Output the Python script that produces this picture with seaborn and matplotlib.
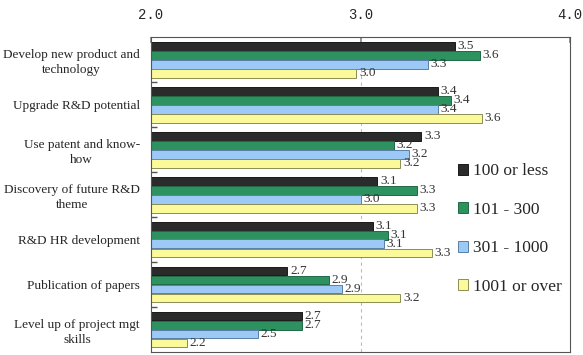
import matplotlib
matplotlib.use("Agg")
import matplotlib.pyplot as plt
import seaborn as sns
import pandas as pd
from matplotlib.patches import Patch

categories = [
    "Develop new product and\ntechnology",
    "Upgrade R&D potential",
    "Use patent and know-\nhow",
    "Discovery of future R&D\ntheme",
    "R&D HR development",
    "Publication of papers",
    "Level up of project mgt\nskills",
]
series = ["100 or less", "101-300", "301-1000", "1001 or over"]
legend_labels = ["100 or less", "101 - 300", "301 - 1000", "1001 or over"]
vals_100 = [3.45, 3.37, 3.29, 3.08, 3.06, 2.65, 2.72]
vals_300 = [3.57, 3.43, 3.16, 3.27, 3.13, 2.85, 2.72]
vals_1000 = [3.32, 3.37, 3.23, 3.00, 3.11, 2.91, 2.51]
vals_over = [2.98, 3.58, 3.19, 3.27, 3.34, 3.19, 2.17]
lab_100 = ["3.5", "3.4", "3.3", "3.1", "3.1", "2.7", "2.7"]
lab_300 = ["3.6", "3.4", "3.2", "3.3", "3.1", "2.9", "2.7"]
lab_1000 = ["3.3", "3.4", "3.2", "3.0", "3.1", "2.9", "2.5"]
lab_over = ["3.0", "3.6", "3.2", "3.3", "3.3", "3.2", "2.2"]
xticks = [2.0, 3.0, 4.0]
xtick_labels = ["2.0", "3.0", "4.0"]

colors = ["#2b2b2b", "#2e9160", "#9cc9f5", "#fbfa9a"]
edges = ["#1a1a1a", "#1f6a45", "#5a7fa5", "#8c8c55"]

rows = []
for s, vals in zip(series, [vals_100, vals_300, vals_1000, vals_over]):
    for c, v in zip(categories, vals):
        rows.append({"cat": c, "size": s, "val": v})
df = pd.DataFrame(rows)

sns.set_theme(style="white")
plt.rcParams["font.family"] = ["Liberation Serif", "DejaVu Serif"]

fig = plt.figure(figsize=(5.83, 3.55), dpi=100)
ax = fig.add_axes([151 / 583, 3 / 355, (570 - 151) / 583, (352 - 37) / 355])

sns.barplot(data=df, y="cat", x="val", hue="size", order=categories,
            hue_order=series, palette=colors, orient="h", width=0.8,
            ax=ax, legend=False, saturation=1)

for cont, ec, labs in zip(ax.containers, edges, [lab_100, lab_300, lab_1000, lab_over]):
    for bar in cont:
        bar.set_edgecolor(ec)
        bar.set_linewidth(0.7)
    ax.bar_label(cont, labels=labs, padding=2, fontsize=9.5, color="#333333")

ax.set_xlim(2.0, 4.0)
ax.set_ylim(len(categories) - 0.5, -0.5)
ax.xaxis.tick_top()
ax.set_xticks(xticks)
ax.set_xticklabels(xtick_labels, family=["Liberation Mono", "DejaVu Sans Mono"], fontsize=10)
ax.tick_params(axis="x", which="major", top=True, direction="in", length=4, pad=11, color="#888888")
ax.tick_params(axis="y", which="major", length=0, pad=8, labelsize=9.5)
ax.set_yticks([i + 0.5 for i in range(len(categories) - 1)], minor=True)
ax.tick_params(axis="y", which="minor", left=True, direction="in", length=4, color="#555555")
for t in ax.get_yticklabels():
    t.set_multialignment("center")
    t.set_linespacing(1.3)
ax.set_xlabel("")
ax.set_ylabel("")
ax.axvline(3.0, color="#bbbbbb", linestyle=(0, (3, 3)), linewidth=0.8, zorder=0)

for sp in ax.spines.values():
    sp.set_color("#555555")
    sp.set_linewidth(0.8)

handles = [Patch(facecolor=c, edgecolor=e, linewidth=0.7) for c, e in zip(colors, edges)]
ax.legend(handles, legend_labels, loc="center left", bbox_to_anchor=(0.695, 0.39),
          frameon=False, fontsize=12.5, handlelength=0.6, handleheight=0.6,
          handletextpad=0.3, labelspacing=1.3)

fig.savefig("out.png", dpi=100)
